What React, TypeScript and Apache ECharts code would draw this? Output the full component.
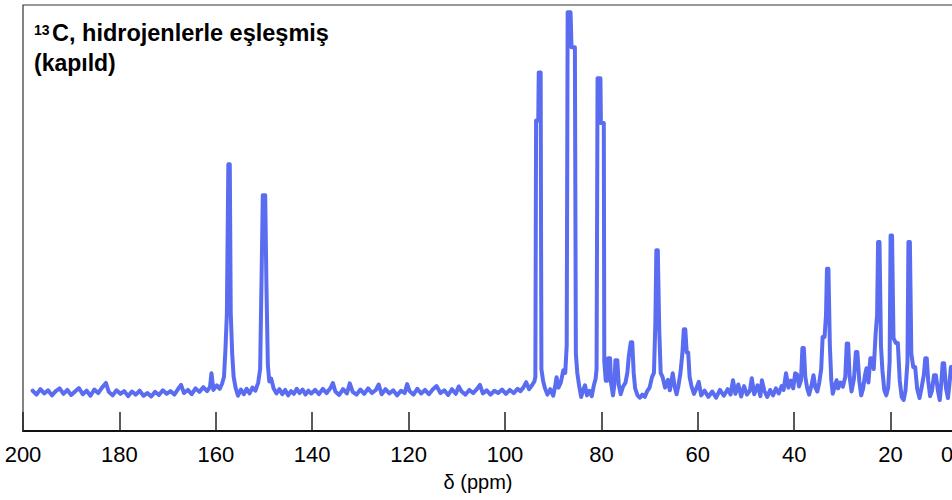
import React, { useEffect, useRef } from "react";
import * as echarts from "echarts";

// x axis: chemical shift (ppm), reversed
const axisMin = 0;
const axisMax = 200;
const tickStep = 20;
const axisTitle = "δ (ppm)";
const titleLine1Sup = "13";
const titleLine1 = "C, hidrojenlerle eşleşmiş";
const titleLine2 = "(kapıld)";

// spectrum traced as [ppm, intensity] pairs, by region
const region200to140: [number, number][] = [
  [198, 0.4], [197.2, -0.6], [196.4, 0.8], [195.6, -0.3], [194.8, 0.5], [194, -0.8], [193.2, 0.3], [192.4, 1.0],
  [191.6, -0.4], [190.8, 0.6], [190, -0.7], [189.2, 0.2], [188.4, 1.1], [187.6, -0.5], [186.8, 0.4], [186, -0.9],
  [185.2, 0.7], [184.4, -0.2], [183.6, 1.2], [182.8, 2.4], [182.2, 0.1], [181.4, -0.8], [180.6, 0.5], [179.8, -0.4],
  [179, 0.3], [178.2, -1.0], [177.4, 0.2], [176.6, -0.6], [175.8, 0.4], [175, -0.9], [174.2, -0.2], [173.4, -1.1],
  [172.6, 0.1], [171.8, -0.7], [171, 0.5], [170.2, -0.4], [169.4, 0.3], [168.6, -0.6], [167.8, 0.9], [167.2, 1.9],
  [166.6, -0.2], [165.8, 0.6], [165, -0.5], [164.2, 1.0], [163.4, 0.1], [162.6, 1.3], [161.8, 0.3], [161.2, 1.4],
  [160.9, 4.9], [160.5, 0.6], [159.8, 1.8], [159.2, 0.9], [158.7, 2.2], [158.3, 4], [158.0, 11], [157.7, 20.4],
  [157.4, 58.9], [157.1, 58.9], [156.9, 20.4], [156.6, 10], [156.3, 4], [155.9, 1.2], [155.4, -0.9], [154.8, 0.7],
  [154.2, -0.5], [153.6, 0.9], [153, -0.3], [152.4, 1.2], [151.8, 0.4], [151.2, 2.5], [150.8, 6], [150.5, 30],
  [150.25, 50.9], [149.75, 50.9], [149.5, 28], [149.2, 7], [148.9, 2.8], [148.5, 3.5], [148, 1.0], [147.4, -0.3],
  [146.8, 0.8], [146.2, -0.5], [145.6, 0.6], [145, -0.8], [144.4, 0.3], [143.8, -0.4], [143.2, 0.9], [142.6, -0.2],
  [142, 0.7], [141.4, -0.6], [140.8, 0.4], [140.2, -0.3],
];

const region140to96: [number, number][] = [
  [139.4, 0.6], [138.6, -0.5], [137.8, 0.9], [137, -0.2], [136.2, 1.1], [135.7, 2.4], [135.2, 0.2], [134.4, -0.7],
  [133.6, 0.8], [132.8, -0.3], [132.2, 2.3], [131.6, 0.1], [130.8, -0.6], [130, 0.7], [129.2, -0.4], [128.4, 1.0],
  [127.6, -0.2], [126.8, 0.6], [126.2, 2.0], [125.6, -0.5], [124.8, 0.8], [124, -0.3], [123.2, 0.5], [122.4, -0.8],
  [121.6, 0.4], [120.8, -0.2], [120.3, 2.1], [119.8, 0.3], [119, -0.6], [118.2, 0.9], [117.4, -0.3], [116.6, 0.6],
  [115.8, -0.5], [115, 0.7], [114.2, 1.6], [113.4, -0.2], [112.6, 0.5], [111.8, -0.7], [111, 0.8], [110.2, -0.4],
  [109.6, 1.5], [109, 0.2], [108.2, -0.6], [107.4, 0.6], [106.6, -0.2], [105.8, 0.9], [105.2, 1.9], [104.6, -0.3],
  [103.8, 0.5], [103, -0.6], [102.2, 0.4], [101.4, -0.2], [100.6, 0.7], [99.8, -0.4], [99, 0.6], [98.2, -0.2],
  [97.4, 0.9], [96.8, 0.3],
];

const region96to60: [number, number][] = [
  [96.2, 1.2], [95.6, 2.6], [95.0, 0.8], [94.4, 1.8], [93.9, 2.8], [93.7, 4], [93.55, 70.2], [93.1, 70.2],
  [93.0, 82.6], [92.6, 82.6], [92.45, 6], [92.1, 3], [91.7, 1.0], [91.2, -0.6], [90.6, 0.8], [90, -0.9],
  [89.6, 1.5], [89.3, 3.9], [88.9, 1.2], [88.4, 2.6], [87.9, 5.7], [87.5, 5], [87.2, 12], [87.0, 98.1],
  [86.4, 98.1], [86.2, 89.1], [85.5, 89.1], [85.3, 10], [85.0, 5], [84.6, 1.5], [84.2, -1.2], [83.8, 0.5],
  [83.4, 1.8], [83.0, -0.8], [82.5, 0.4], [82.0, -1.0], [81.6, 1.6], [81.2, 3.5], [81.0, 6], [80.8, 81.1],
  [80.2, 81.1], [80.1, 69.5], [79.5, 69.5], [79.4, 8], [79.1, 3], [78.8, 3], [78.6, 8.8], [78.2, 8.8],
  [78.0, 2.5], [77.6, -0.8], [77.3, 2], [77.1, 8.3], [76.7, 8.3], [76.4, 2], [76.0, -0.5], [75.5, 1.5],
  [75.0, 2.5], [74.6, 5.2], [74.3, 9.5], [73.9, 12.9], [73.6, 12.9], [73.3, 5], [73.0, 1.0], [72.5, -0.8],
  [72.0, -1.4], [71.5, -0.6], [71.0, -1.2], [70.5, 0.3], [70.0, 1.2], [69.5, 3.9], [69.1, 5], [68.8, 18],
  [68.6, 36.7], [68.3, 36.7], [68.0, 16], [67.7, 5], [67.3, 3.9], [66.8, 1.2], [66.2, 3.2], [65.8, 0.5],
  [65.2, 4.9], [64.8, 1.5], [64.4, -0.5], [64.0, 1.8], [63.6, 5], [63.2, 10], [62.9, 16.3], [62.6, 16.3],
  [62.3, 10.3], [62.0, 10.3], [61.7, 4], [61.3, 1.5], [60.8, -0.4], [60.3, 1.0],
];

const region60to36: [number, number][] = [
  [59.8, 2.7], [59.3, -0.8], [58.6, 0.4], [57.8, -1.2], [57.0, 0.2], [56.2, -1.4], [55.4, 0.6], [54.6, -0.9],
  [53.8, 0.8], [53.2, -0.6], [52.7, 3.1], [52.2, -0.4], [51.6, 2.0], [51.0, -1.1], [50.4, 1.6], [49.8, -0.6],
  [49.2, 0.4], [48.8, 3.6], [48.3, -0.5], [47.6, 1.8], [47.0, -1.0], [46.7, 3.1], [46.2, 0.4], [45.6, -1.2],
  [45.0, 0.6], [44.4, -0.8], [43.8, 1.0], [43.2, -0.3], [42.6, 1.6], [42.2, 0.6], [41.7, 4.9], [41.2, 1.2],
  [40.7, 3.0], [40.2, 1.0], [39.8, 4.9], [39.4, 4.6], [39.0, 1.5], [38.6, 3], [38.3, 11.4], [38.0, 11.4],
  [37.7, 4], [37.3, 1.0], [36.9, -0.6], [36.4, 1.8], [36.0, 4.4], [35.6, 1.2],
];

const region36to5: [number, number][] = [
  [35.2, 0.2], [34.8, 2.5], [34.4, 6], [34.1, 14.3], [33.7, 14.3], [33.4, 20], [33.2, 31.9], [32.9, 31.9],
  [32.6, 12], [32.3, 3], [32.0, -0.4], [31.6, 1.5], [31.2, 3.1], [30.9, 1.0], [30.4, 2.5], [29.9, 1.4],
  [29.4, 4], [29.1, 12.6], [28.8, 12.6], [28.5, 4], [28.1, 0.2], [27.6, 3.5], [27.2, 10.4], [26.9, 10.4],
  [26.5, 3], [26.1, -0.8], [25.7, 1.0], [25.3, 4.5], [25.0, 6.2], [24.6, 2.5], [24.2, 8.8], [23.9, 8.8],
  [23.5, 6], [23.1, 15.2], [22.8, 20], [22.6, 38.8], [22.3, 38.8], [22.0, 12], [21.7, 5.7], [21.3, 0.5],
  [20.9, -0.8], [20.5, 1.2], [20.2, 8], [20.0, 40.5], [19.7, 40.5], [19.4, 14], [18.9, 12.7], [18.5, 12.7],
  [18.1, 3], [17.7, -1.2], [17.3, -2.0], [16.9, 0.5], [16.5, 8], [16.3, 38.8], [16.0, 38.8], [15.7, 10],
  [15.3, 6.5], [14.9, 6.5], [14.5, 1.0], [14.0, -1.5], [13.6, 1.0], [13.1, 4.5], [12.8, 8.8], [12.5, 8.8],
  [12.2, 3], [11.8, -1.0], [11.4, 0.5], [11.0, 4.4], [10.6, 4.4], [10.2, 0.5], [9.8, -2.0], [9.5, 2],
  [9.2, 7.5], [8.9, 7.5], [8.5, 1.0], [8.1, -1.5], [7.8, 2], [7.5, 6.5], [7.1, 6.5], [6.7, 1.0],
  [6.3, -1.0], [5.9, 3], [5.5, 2.0],
];

export default function App() {
  const ref = useRef<HTMLDivElement>(null);

  useEffect(() => {
    if (!ref.current) return;
    const chart = echarts.init(ref.current, undefined, { renderer: "svg" });
    const spectrum = [
      ...region200to140,
      ...region140to96,
      ...region96to60,
      ...region60to36,
      ...region36to5,
    ];
    const font = "'Liberation Sans', Arial, Helvetica, sans-serif";
    chart.setOption({
      animation: false,
      backgroundColor: "#ffffff",
      grid: {
        left: 23,
        top: 5,
        right: -35,
        bottom: 69,
        show: true,
        borderColor: "#333333",
        borderWidth: 1.2,
        backgroundColor: "transparent",
        outerBoundsMode: "none",
        containLabel: false,
      },
      xAxis: {
        type: "value",
        min: axisMin,
        max: axisMax,
        interval: tickStep,
        inverse: true,
        axisLine: { show: true, onZero: false, lineStyle: { color: "#111111", width: 2 } },
        axisTick: { show: true, inside: true, length: 19, lineStyle: { color: "#222222", width: 1.5 } },
        axisLabel: {
          color: "#000000",
          fontSize: 22,
          fontFamily: font,
          margin: 12,
          showMaxLabel: true,
          showMinLabel: true,
          formatter: (v: number) => (v === axisMin ? "{edge|" + v + "}" : String(v)),
          rich: {
            edge: { fontSize: 22, fontFamily: font, color: "#000000", padding: [0, 80, 0, 0] },
          },
        },
        splitLine: { show: false },
      },
      yAxis: {
        type: "value",
        min: -10,
        max: 100,
        show: false,
        splitLine: { show: false },
      },
      series: [
        {
          type: "line",
          data: spectrum,
          showSymbol: false,
          symbol: "none",
          smooth: false,
          lineStyle: { color: "#5a6cf0", width: 4, join: "round", cap: "round" },
          z: 3,
        },
      ],
      graphic: [
        {
          type: "text",
          left: 34,
          top: 23,
          style: { text: titleLine1Sup, fontSize: 14, fontWeight: "bold", fill: "#000", fontFamily: font },
        },
        {
          type: "text",
          left: 52,
          top: 21,
          style: { text: titleLine1, fontSize: 23.5, fontWeight: "bold", fill: "#000", fontFamily: font },
        },
        {
          type: "text",
          left: 34,
          top: 51,
          style: { text: titleLine2, fontSize: 23, fontWeight: "bold", fill: "#000", fontFamily: font },
        },
        {
          type: "text",
          x: 478,
          y: 482,
          style: {
            text: axisTitle,
            fontSize: 20,
            fill: "#000",
            fontFamily: font,
            align: "center",
            verticalAlign: "middle",
          },
        },
      ],
    });
    return () => chart.dispose();
  }, []);

  return (
    <div
      ref={ref}
      style={{ position: "absolute", left: 0, top: 0, width: 952, height: 500 }}
    />
  );
}
